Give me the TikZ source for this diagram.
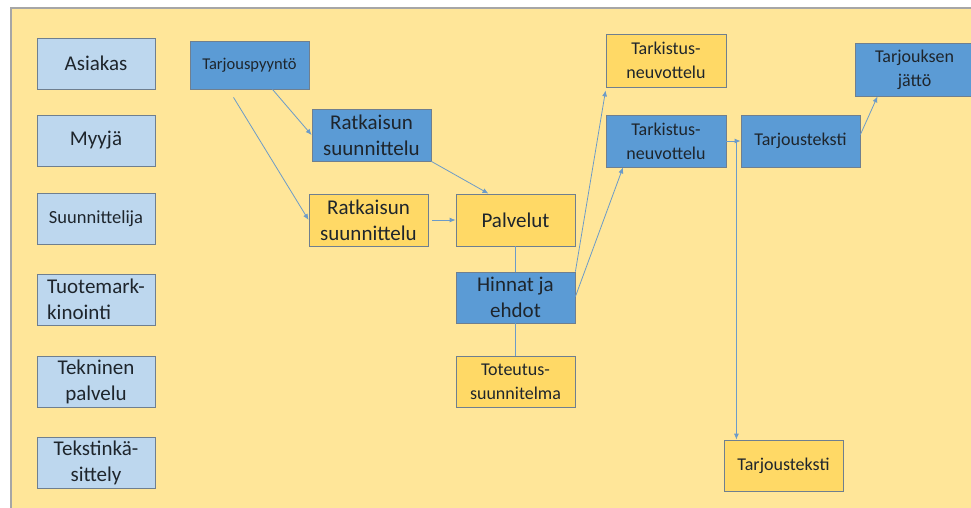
\documentclass[tikz,border=0pt]{standalone}
\usepackage{fontspec}
\setmainfont{Carlito}
\usetikzlibrary{calc, arrows.meta}
\definecolor{taustakeltainen}{HTML}{FFE699}
\definecolor{vaaleansininen}{HTML}{BDD7EE}
\definecolor{sininen}{HTML}{5B9BD5}
\definecolor{keltainen}{HTML}{FFD966}
\definecolor{reuna}{HTML}{6F7F8F}
\definecolor{nuoli}{HTML}{6C9BC8}
\definecolor{teksti}{HTML}{1E252C}

\begin{document}
\begin{tikzpicture}[x=1pt, y=-1pt,
        laatikko/.style={draw=reuna, line width=0.8pt, text=teksti, align=center,
            minimum width=119pt, minimum height=51pt, inner sep=2pt,
            font=\fontsize{21}{26}\selectfont},
        rooli/.style={laatikko, fill=vaaleansininen, minimum width=118pt},
        sininenlaatikko/.style={laatikko, fill=sininen},
        keltainenlaatikko/.style={laatikko, fill=keltainen},
        pieni/.style={font=\fontsize{18}{24}\selectfont},
        arr/.style={draw=nuoli, line width=0.8pt, -{Latex[length=6pt,width=5pt]}},
        viiva/.style={draw=nuoli, line width=0.8pt}]
        \useasboundingbox (0,0) rectangle (971,507);
        % Background
        \fill[taustakeltainen] (11,8) rectangle (975,511);
        \draw[gray!70, line width=1.5pt] (11,511) -- (11,8) -- (975,8);

        % Roles
        \node[rooli] (asiakas) at (96,63.5) {Asiakas};
        \node[rooli] (myyja) at (96,140.5) {Myyjä};
        \node[rooli, font=\fontsize{18.5}{24}\selectfont] (suunnittelija) at (96,218.5) {Suunnittelija};
        \node[rooli, align=left] (tuote) at (96,299.5) {Tuotemark-\\kinointi};
        \node[rooli] (tekninen) at (96,381.5) {Tekninen\\palvelu};
        \node[rooli] (tekstinkasittely) at (96,463) {Tekstinkä-\\sittely};

        % Process
        \node[sininenlaatikko, minimum height=48pt, font=\fontsize{16.5}{20}\selectfont] (pyynto) at (249.5,65) {Tarjouspyyntö};
        \node[sininenlaatikko, minimum height=52pt] (ratkB) at (371.5,135) {Ratkaisun\\suunnittelu};
        \node[keltainenlaatikko, minimum height=52pt] (ratkY) at (368.5,220) {Ratkaisun\\suunnittelu};
        \node[keltainenlaatikko, minimum height=52pt] (palvelut) at (515.5,220) {Palvelut};
        \node[sininenlaatikko] (hinnat) at (515.5,297.5) {Hinnat ja\\ehdot};
        \node[keltainenlaatikko, pieni] (toteutus) at (515.5,381.5) {Toteutus-\\suunnitelma};
        \node[keltainenlaatikko, pieni, minimum width=120pt, minimum height=53pt] (tarkY) at (666,60.5) {Tarkistus-\\neuvottelu};
        \node[sininenlaatikko, pieni, minimum width=120pt, minimum height=52pt] (tarkB) at (666,141) {Tarkistus-\\neuvottelu};
        \node[sininenlaatikko, pieni, minimum height=52pt] (tekstiB) at (800.5,141) {Tarjousteksti};
        \node[sininenlaatikko, pieni, minimum height=53pt] (jatto) at (914.5,69.5) {Tarjouksen\\jättö};
        \node[keltainenlaatikko, pieni] (tekstiY) at (783.5,465.5) {Tarjousteksti};

        % Connectors
        \draw[arr] ([xshift=23pt]pyynto.south) -- (ratkB.west);
        \draw[arr] ([xshift=-16pt,yshift=-8pt]pyynto.south) -- (ratkY.west);
        \draw[arr] (ratkB.south east) -- ([xshift=-27pt]palvelut.north);
        \draw[arr] ([xshift=4pt]ratkY.east) -- (palvelut.west);
        \draw[viiva] (palvelut) -- (hinnat);
        \draw[viiva] (hinnat) -- (toteutus);
        \draw[arr] (hinnat.north east) -- ([yshift=-3pt]tarkY.south west);
        \draw[arr] ([yshift=-25pt]hinnat.north east) -- ([xshift=-43pt]tarkB.south);
        \draw[arr] (tarkB.east) -- (tekstiB.west);
        \coordinate (haara) at ($(tarkB.east)+(10,0)$);
        \draw[arr] (haara) -- (haara |- tekstiY.north);
        \draw[arr] ([yshift=-20pt]tekstiB.north east) -- ([xshift=-37pt]jatto.south);
    \end{tikzpicture}
\end{document}
